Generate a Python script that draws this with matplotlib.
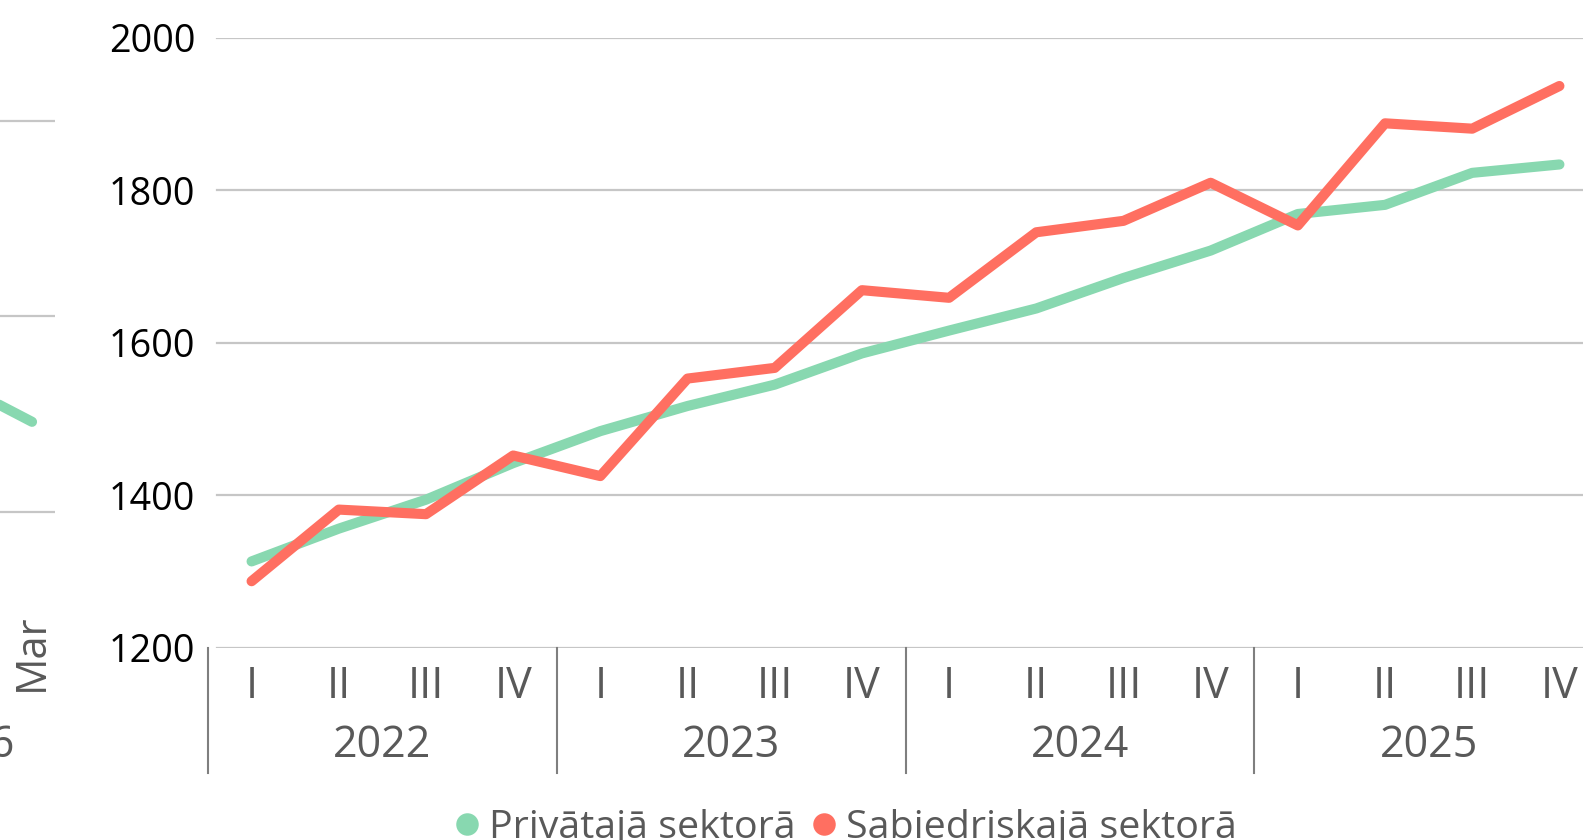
import matplotlib
matplotlib.use("Agg")
import matplotlib.pyplot as plt
from matplotlib.lines import Line2D
import matplotlib.transforms as mtransforms

# ---------------- data ----------------
quarters = ["I", "II", "III", "IV"] * 4
years = ["2022", "2023", "2024", "2025"]
private = [1313, 1356, 1394, 1442, 1484, 1517, 1545, 1586,
           1616, 1645, 1685, 1721, 1769, 1781, 1823, 1834]
public = [1287, 1381, 1375, 1452, 1425, 1553, 1567, 1669,
          1659, 1745, 1760, 1810, 1754, 1888, 1881, 1937]
yticks = [1200, 1400, 1600, 1800, 2000]
series_names = ["Privātajā sektorā", "Sabiedriskajā sektorā"]

# fragment of the neighbouring chart visible at the left edge
left_months = ["Feb", "Mar"]
left_private = [16.2, 14.6]
left_grid = [10, 20, 30]
left_year = "2026"

# ---------------- style ----------------
GREEN = "#88D8B0"
RED = "#FF6F61"
GRID = "#C6C6C6"
SEP = "#7F7F7F"
TXT = "#595959"
LW = 7.3

plt.rcParams['font.family'] = ['Open Sans', 'DejaVu Sans']

W, H = 1583, 840
fig = plt.figure(figsize=(W / 100, H / 100), dpi=100)


def px(x0, y0, x1, y1):
    return [x0 / W, 1 - y1 / H, (x1 - x0) / W, (y1 - y0) / H]


# ---------------- main chart ----------------
ax_l, ax_t, ax_r, ax_b = 208, 38, 1603, 647.5
ax = fig.add_axes(px(ax_l, ax_t, ax_r, ax_b))
n = len(private)
ax.set_xlim(-0.5, n - 0.5)
ax.set_ylim(yticks[0], yticks[-1])
for s in ax.spines.values():
    s.set_visible(False)

for v in yticks:
    ax.axhline(v, xmin=8.5 / (ax_r - ax_l), xmax=1, color=GRID, lw=1.6, zorder=0)

xs = list(range(n))
ax.plot(xs, private, color=GREEN, lw=LW, solid_capstyle='round',
        solid_joinstyle='round', clip_on=False, zorder=3, label=series_names[0])
ax.plot(xs, public, color=RED, lw=LW, solid_capstyle='round',
        solid_joinstyle='round', clip_on=False, zorder=4, label=series_names[1])

ax.set_yticks(yticks)
ax.set_yticklabels([str(v) for v in yticks])
ax.tick_params(axis='y', length=0, pad=9.0, labelsize=27.2, labelcolor='black')
ax.set_xticks([])

# category separators
bt = mtransforms.blended_transform_factory(ax.transData, ax.transAxes)
sep_depth = (773 - ax_b) / (ax_b - ax_t)
for b in [-0.5 + 4 * k for k in range(len(years) + 1)]:
    ax.plot([b, b], [0, -sep_depth], transform=bt, color=SEP, lw=1.5,
            clip_on=False, zorder=2)

# quarter and year labels
bf = mtransforms.blended_transform_factory(ax.transData, fig.transFigure)
for i, q in enumerate(quarters):
    ax.text(i, 1 - 698 / H, q, transform=bf, ha='center', va='baseline',
            fontsize=31, color=TXT)
for k, y in enumerate(years):
    ax.text(4 * k + 1.5, 1 - 757 / H, y, transform=bf, ha='center',
            va='baseline', fontsize=31, color=TXT)

# legend
handles = [Line2D([], [], marker='o', ls='none', ms=16.2, color=GREEN,
                  markeredgewidth=0),
           Line2D([], [], marker='o', ls='none', ms=16.2, color=RED,
                  markeredgewidth=0)]
leg = fig.legend(handles, series_names, loc='center',
                 bbox_to_anchor=(845 / W, 1 - 828 / H), ncol=2, frameon=False,
                 fontsize=28.4, handlelength=0.7, handletextpad=0.22,
                 columnspacing=0.35, borderpad=0, labelcolor=TXT)

# ---------------- neighbouring chart fragment ----------------
axl = fig.add_axes(px(-100, 100, 55, 595))
axl.set_xlim(-1.2, 1.383)
axl.set_ylim(5.72, 31.1)
for s in axl.spines.values():
    s.set_visible(False)
for v in left_grid:
    axl.axhline(v, color=GRID, lw=1.6, zorder=0)
axl.plot(range(len(left_months)), left_private, color=GREEN, lw=LW,
         solid_capstyle='round', clip_on=False)
axl.set_yticks([])
axl.set_xticks(range(len(left_months)))
axl.set_xticklabels(left_months, rotation=90, fontsize=30, color=TXT)
axl.tick_params(axis='x', length=0, pad=13.5)
fig.text(15 / W, 1 - 757 / H, left_year, ha='right', va='baseline',
         fontsize=31, color=TXT)

fig.savefig("out.png", dpi=100)
